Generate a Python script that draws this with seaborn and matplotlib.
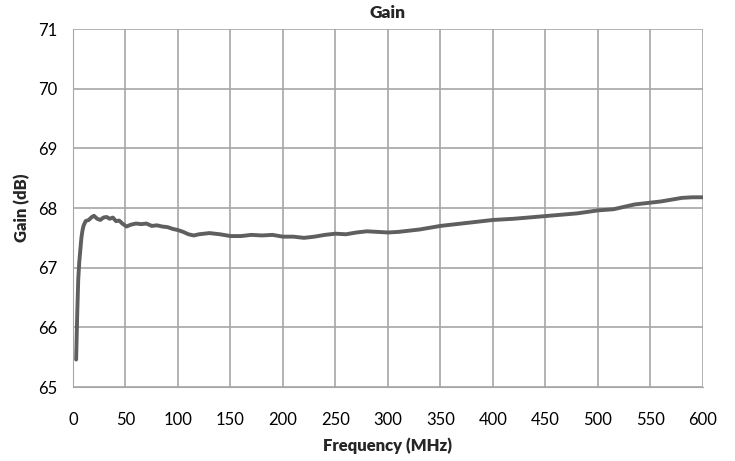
import pandas as pd
import seaborn as sns
import matplotlib.pyplot as plt

# frequency (MHz) and gain (dB)
freq = [3, 4, 5, 6, 7, 8, 9, 10, 12, 15, 18, 20, 23, 26, 29, 32, 35, 38, 41, 44,
        47, 51, 55, 60, 65, 70, 75, 80, 85, 90, 95, 100, 105, 110, 115, 120, 125,
        130, 135, 140, 150, 160, 170, 180, 190, 200, 210, 220, 230, 240, 250, 260,
        270, 280, 290, 300, 310, 320, 330, 340, 350, 360, 370, 380, 390, 400, 420,
        440, 460, 480, 500, 515, 525, 535, 550, 560, 570, 580, 590, 600]
gain = [65.46, 66.2, 66.8, 67.1, 67.3, 67.5, 67.62, 67.7, 67.78, 67.80, 67.85, 67.87,
        67.82, 67.80, 67.84, 67.85, 67.82, 67.84, 67.78, 67.79, 67.74, 67.69, 67.72,
        67.74, 67.73, 67.74, 67.70, 67.71, 67.69, 67.68, 67.65, 67.63, 67.60, 67.56,
        67.54, 67.56, 67.57, 67.58, 67.57, 67.56, 67.53, 67.53, 67.55, 67.54, 67.55,
        67.52, 67.52, 67.50, 67.52, 67.55, 67.57, 67.56, 67.59, 67.61, 67.60, 67.59,
        67.60, 67.62, 67.64, 67.67, 67.70, 67.72, 67.74, 67.76, 67.78, 67.80, 67.82,
        67.85, 67.88, 67.91, 67.96, 67.98, 68.02, 68.06, 68.09, 68.11, 68.14, 68.17,
        68.18, 68.18]
x_ticks = list(range(0, 601, 50))
y_ticks = list(range(65, 72))

df = pd.DataFrame({"Frequency (MHz)": freq, "Gain (dB)": gain})

sns.set_style("white")
plt.rcParams['font.family'] = ['Lato', 'DejaVu Sans']

fig = plt.figure(figsize=(7.35, 4.61), dpi=100)
ax = fig.add_axes([0.0993, 0.1605, 0.857, 0.7765])

sns.lineplot(x="Frequency (MHz)", y="Gain (dB)", data=df, ax=ax,
             color="#5f5f5f", linewidth=2.8)

ax.set_xlim(0, 600)
ax.set_ylim(65, 71)
ax.set_xticks(x_ticks)
ax.set_yticks(y_ticks)
ax.grid(True, color="#a6a6a6", linewidth=1.2)
for s in ax.spines.values():
    s.set_visible(False)
ax.spines['left'].set_visible(True)
ax.spines['bottom'].set_visible(True)
ax.spines['left'].set_color("#a6a6a6")
ax.spines['bottom'].set_color("#a6a6a6")
ax.tick_params(axis='both', direction='out', length=5, width=1, color="#a6a6a6",
               labelsize=12, labelcolor="black", pad=6)
ax.tick_params(axis='x', pad=13)

ax.set_title("Gain", fontsize=12.5, fontweight="heavy", pad=8)
ax.set_xlabel("Frequency (MHz)", fontsize=12, fontweight="heavy", labelpad=7)
ax.set_ylabel("Gain (dB)", fontsize=12, fontweight="heavy", labelpad=6)

fig.savefig("out.png", dpi=100)
